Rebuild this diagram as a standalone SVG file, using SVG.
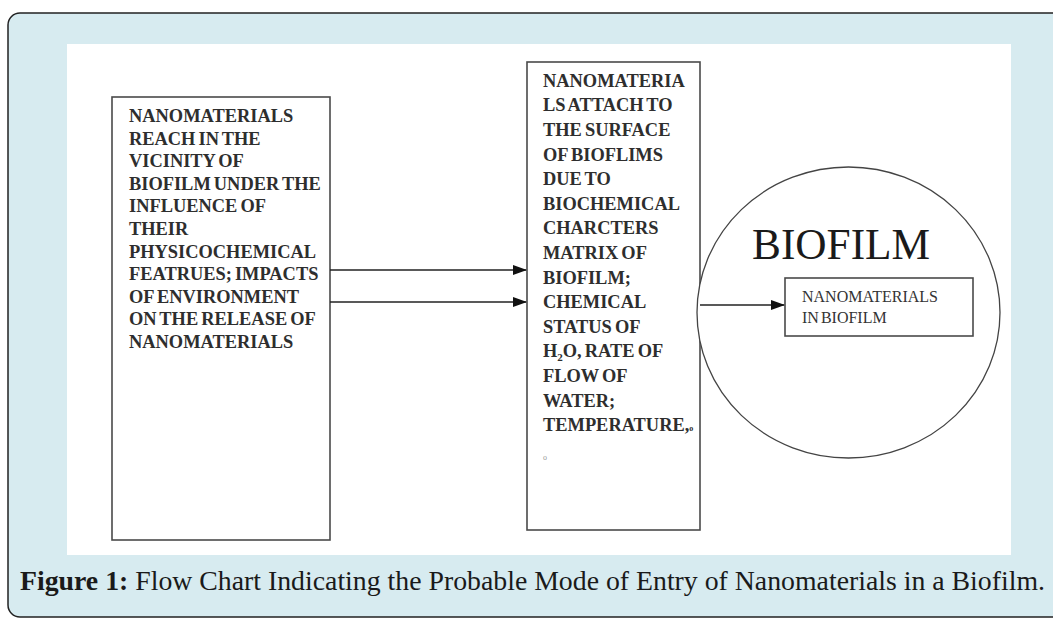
<svg xmlns="http://www.w3.org/2000/svg" width="1053" height="619" viewBox="0 0 1053 619">
<defs>
<style>
.box{fill:#fff;stroke:#4a4a4a;stroke-width:1.6}
.bt{font-family:"Liberation Serif",serif;font-size:18.4px;font-weight:bold;fill:#2e2e2e;word-spacing:-1.5px}
.it{font-family:"Liberation Serif",serif;font-size:16px;fill:#333;word-spacing:-2px}
.conn{stroke:#222;stroke-width:1.5;fill:none;marker-end:url(#ah)}
</style>
<marker id="ah" markerWidth="14" markerHeight="10" refX="13" refY="5" orient="auto" markerUnits="userSpaceOnUse">
<path d="M0,0 L14,5 L0,10 Z" fill="#111"/>
</marker>
</defs>
<rect x="8" y="13" width="1100" height="604" rx="12" fill="#d7ebf0" stroke="#222" stroke-width="1.5"/>
<rect x="67" y="44" width="944" height="511" fill="#fff"/>
<g id="node-left">
<rect class="box" x="112" y="97" width="218" height="443"/>
<text class="bt" x="129" y="122">NANOMATERIALS</text>
<text class="bt" x="129" y="144.6">REACH IN THE</text>
<text class="bt" x="129" y="167.2">VICINITY OF</text>
<text class="bt" x="129" y="189.8">BIOFILM UNDER THE</text>
<text class="bt" x="129" y="212.4">INFLUENCE OF</text>
<text class="bt" x="129" y="235">THEIR</text>
<text class="bt" x="129" y="257.6">PHYSICOCHEMICAL</text>
<text class="bt" x="129" y="280.2">FEATRUES; IMPACTS</text>
<text class="bt" x="129" y="302.8">OF ENVIRONMENT</text>
<text class="bt" x="129" y="325.4">ON THE RELEASE OF</text>
<text class="bt" x="129" y="348">NANOMATERIALS</text>
</g>
<g id="node-middle">
<rect class="box" x="527" y="62" width="173" height="468"/>
<text class="bt" x="543" y="86.7">NANOMATERIA</text>
<text class="bt" x="543" y="111.3">LS ATTACH TO</text>
<text class="bt" x="543" y="135.9">THE SURFACE</text>
<text class="bt" x="543" y="160.5">OF BIOFLIMS</text>
<text class="bt" x="543" y="185.1">DUE TO</text>
<text class="bt" x="543" y="209.7">BIOCHEMICAL</text>
<text class="bt" x="543" y="234.3">CHARCTERS</text>
<text class="bt" x="543" y="258.9">MATRIX OF</text>
<text class="bt" x="543" y="283.5">BIOFILM;</text>
<text class="bt" x="543" y="308.1">CHEMICAL</text>
<text class="bt" x="543" y="332.7">STATUS OF</text>
<text class="bt" x="543" y="357.3">H<tspan font-size="11" dy="4">2</tspan><tspan dy="-4">O, RATE OF</tspan></text>
<text class="bt" x="543" y="381.9">FLOW OF</text>
<text class="bt" x="543" y="406.5">WATER;</text>
<text class="bt" x="543" y="431.1">TEMPERATURE,<tspan font-size="8">o</tspan></text>
<text x="543" y="460" font-family="Liberation Serif, serif" font-size="8" fill="#999">o</text>
</g>
<g id="node-biofilm">
<ellipse cx="848.5" cy="312.5" rx="151.5" ry="145.5" fill="#fff" stroke="#444" stroke-width="1.3"/>
<text x="752" y="259" font-family="Liberation Serif, serif" font-size="44" fill="#1a1a1a" textLength="178" lengthAdjust="spacingAndGlyphs">BIOFILM</text>
</g>
<g id="node-inner">
<rect class="box" x="785" y="278" width="188" height="58"/>
<text class="it" x="802" y="302">NANOMATERIALS</text>
<text class="it" x="802" y="323">IN BIOFILM</text>
</g>
<g id="connectors">
<line class="conn" x1="330" y1="270" x2="526" y2="270"/>
<line class="conn" x1="330" y1="302" x2="526" y2="302"/>
<line class="conn" x1="700" y1="305" x2="784" y2="305"/>
</g>
<text x="20" y="590" font-family="Liberation Serif, serif" font-size="27" fill="#1a1a1a" textLength="1025" lengthAdjust="spacingAndGlyphs"><tspan font-weight="bold">Figure 1:</tspan> Flow Chart Indicating the Probable Mode of Entry of Nanomaterials in a Biofilm.</text>
</svg>
